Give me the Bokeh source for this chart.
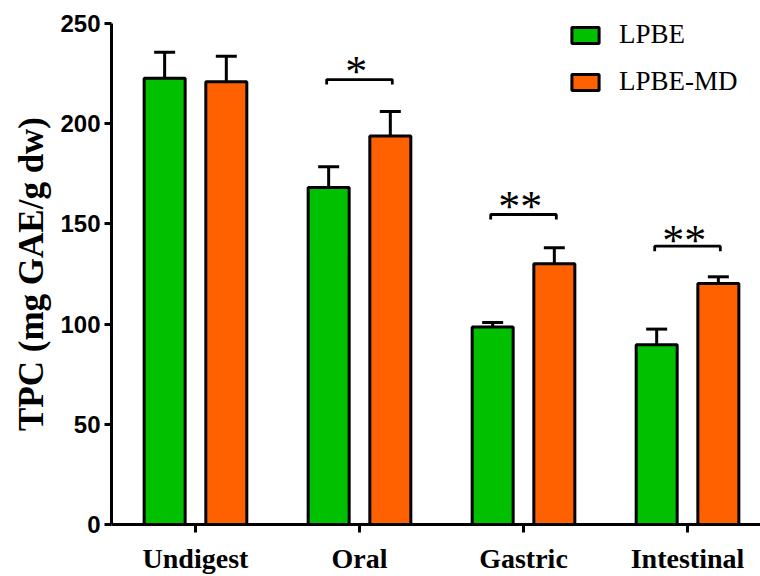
from bokeh.plotting import figure
from bokeh.models import (Range1d, FixedTicker, Whisker, TeeHead, ColumnDataSource,
                          Legend, LegendItem)
from bokeh.embed import file_html
from bokeh.resources import INLINE
from bokeh.core.properties import value

# ---- data ----
categories = ["Undigest", "Oral", "Gastric", "Intestinal"]
series_names = ["LPBE", "LPBE-MD"]
lpbe = [222.7, 168.2, 98.5, 89.7]
lpbe_sd = [13.0, 10.3, 2.3, 7.8]
lpbe_md = [220.9, 193.8, 130.1, 120.3]
lpbe_md_sd = [12.8, 12.3, 8.0, 3.3]
y_ticks = [0, 50, 100, 150, 200, 250]
sig_groups = ["Oral", "Gastric", "Intestinal"]
sig_labels = ["*", "**", "**"]
bracket_y = [222.0, 154.7, 138.9]
star_y = [226.0, 158.7, 141.7]

GREEN = "#00C000"
ORANGE = "#FF6000"
BAR_W = 0.25
OFF = 0.188

pos = list(range(len(categories)))

p = figure(width=760, height=576,
           x_range=Range1d(-0.512, 3.445), y_range=Range1d(0, 250),
           output_backend="svg", toolbar_location=None,
           min_border_left=111, min_border_right=0,
           min_border_top=23, min_border_bottom=52)
p.outline_line_color = None
p.xgrid.visible = False
p.ygrid.visible = False
p.background_fill_color = "white"

def series(vals, sds, off, color):
    xs = [i + off for i in pos]
    src = ColumnDataSource(dict(x=xs, top=vals, upper=[v + s for v, s in zip(vals, sds)]))
    w = Whisker(source=src, base="x", lower="top", upper="upper",
                line_color="black", line_width=3,
                upper_head=TeeHead(size=21, line_width=3, line_color="black"),
                lower_head=None)
    p.add_layout(w)
    r = p.vbar(x="x", top="top", width=BAR_W, bottom=0, source=src,
               fill_color=color, line_color="black", line_width=3)
    return r

r1 = series(lpbe, lpbe_sd, -OFF, GREEN)
r2 = series(lpbe_md, lpbe_md_sd, OFF, ORANGE)

# significance brackets
half = 0.2
drop = 2.5
bx, by, sx = [], [], []
for g, yv in zip(sig_groups, bracket_y):
    c = categories.index(g)
    sx.append(c - 0.02)
    bx.append([c - half, c - half, c + half, c + half])
    by.append([yv - drop, yv, yv, yv - drop])
p.multi_line(xs=bx, ys=by, line_color="black", line_width=2.8)
p.text(x=sx, y=star_y, text=sig_labels, text_font=value("Liberation Serif"),
       text_font_size="44px", text_align="center", text_baseline="alphabetic",
       text_color="black")

# axes
xa = p.xaxis[0]
xa.ticker = FixedTicker(ticks=pos)
xa.major_label_overrides = {i: c for i, c in enumerate(categories)}
xa.axis_line_width = 3
xa.axis_line_color = "black"
xa.major_tick_line_width = 3
xa.major_tick_out = 8
xa.major_tick_in = 0
xa.minor_tick_line_color = None
xa.major_label_text_font = "Liberation Serif"
xa.major_label_text_font_style = "bold"
xa.major_label_text_font_size = "28px"
xa.major_label_text_color = "black"
xa.major_label_standoff = 10

ya = p.yaxis[0]
ya.ticker = FixedTicker(ticks=y_ticks)
ya.axis_line_width = 3
ya.axis_line_color = "black"
ya.major_tick_line_width = 3
ya.major_tick_out = 7
ya.major_tick_in = 0
ya.minor_tick_line_color = None
ya.major_label_text_font = "Liberation Sans"
ya.major_label_text_font_style = "bold"
ya.major_label_text_font_size = "24px"
ya.major_label_text_color = "black"
ya.major_label_standoff = 4
ya.axis_label = "TPC (mg GAE/g dw)"
ya.axis_label_text_font = "Liberation Serif"
ya.axis_label_text_font_style = "bold"
ya.axis_label_text_font_size = "35px"
ya.axis_label_text_color = "black"
ya.axis_label_standoff = 6

legend = Legend(items=[LegendItem(label=series_names[0], renderers=[r1]),
                       LegendItem(label=series_names[1], renderers=[r2])],
                location=(457, 427), orientation="vertical",
                glyph_width=34, glyph_height=20,
                label_text_font="Liberation Serif", label_text_font_size="27px",
                label_text_color="black", label_standoff=17,
                spacing=16, padding=0, margin=0,
                border_line_color=None, background_fill_alpha=0)
p.add_layout(legend)

open("out.html", "w").write(file_html(p, INLINE))
